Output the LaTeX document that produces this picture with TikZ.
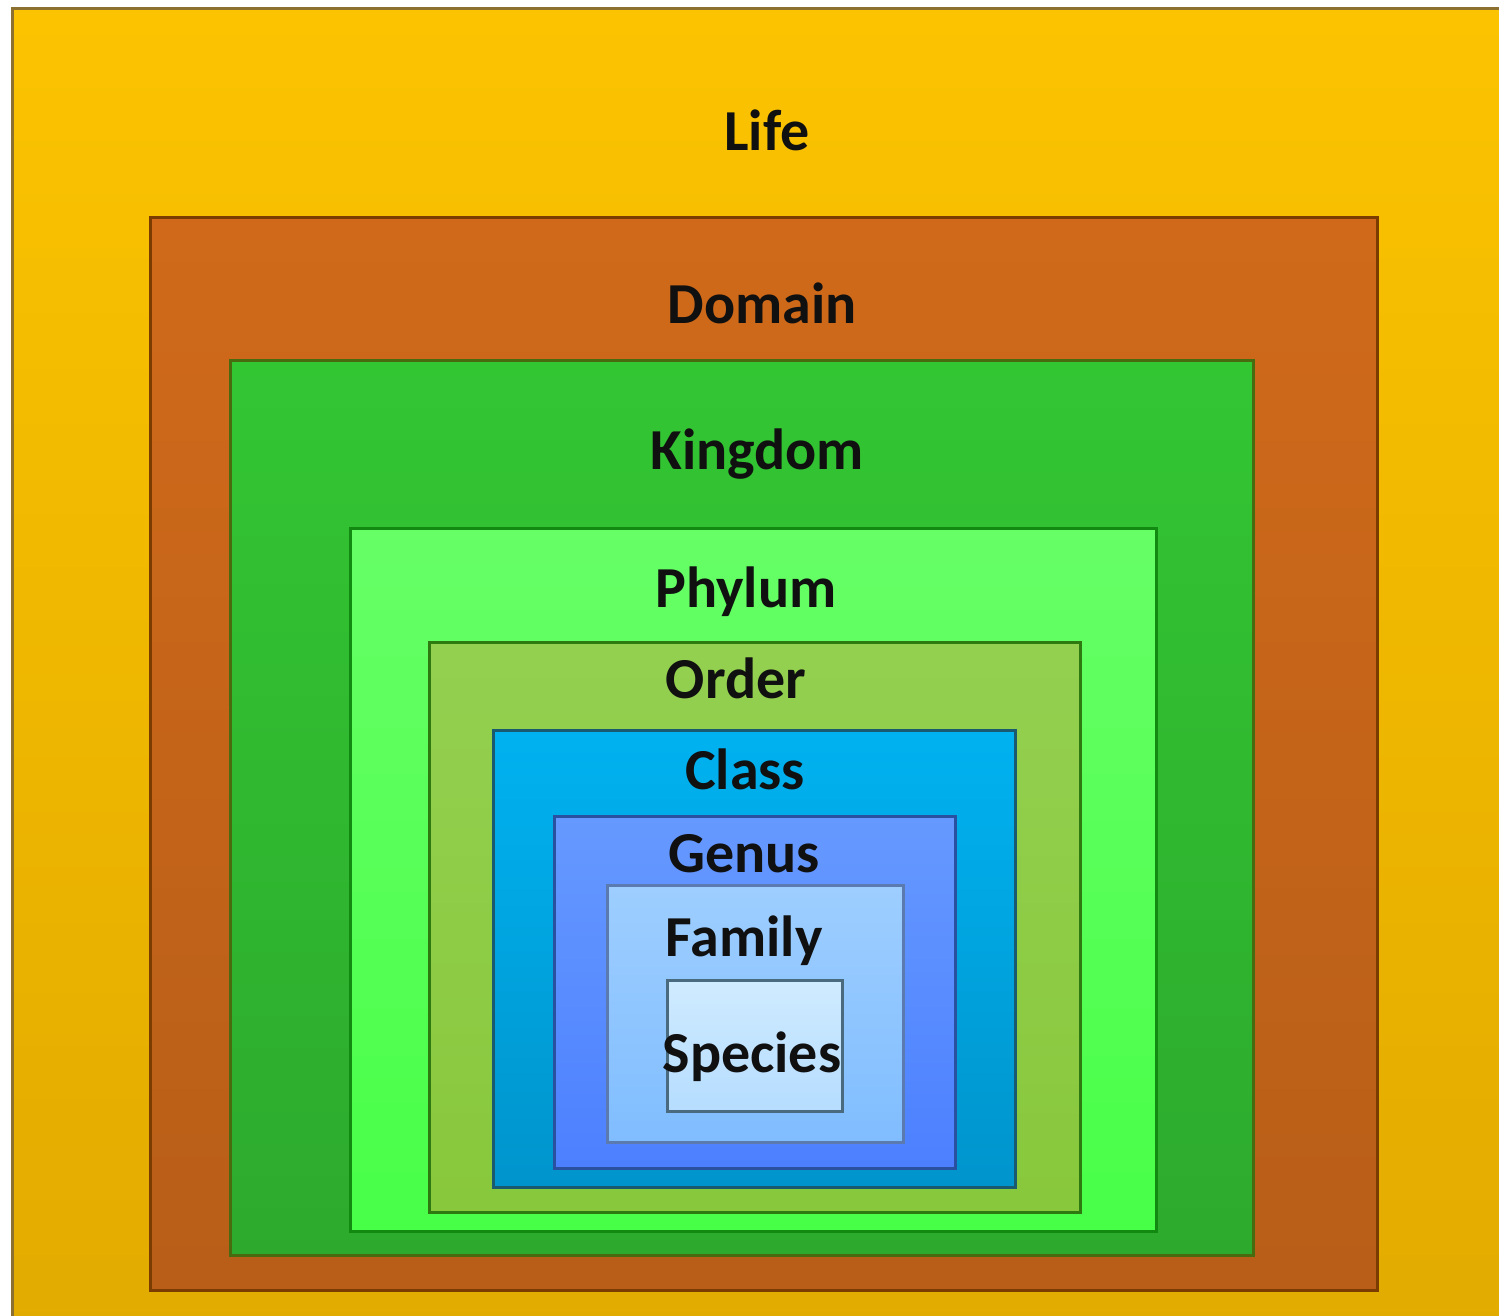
\documentclass[tikz,border=0pt]{standalone}
\usepackage{fontspec}
\setmainfont{Carlito}
\definecolor{lifeT}{HTML}{FBC300}\definecolor{lifeB}{HTML}{E2AB00}\definecolor{lifeD}{HTML}{8B7030}
\definecolor{domT}{HTML}{D06A1A}\definecolor{domB}{HTML}{B85E18}\definecolor{domD}{HTML}{7A3C00}
\definecolor{kinT}{HTML}{33C633}\definecolor{kinB}{HTML}{2DAA2D}\definecolor{kinD}{HTML}{4A6A10}
\definecolor{phyT}{HTML}{66FF66}\definecolor{phyB}{HTML}{48FF48}\definecolor{phyD}{HTML}{128A12}
\definecolor{ordT}{HTML}{94D050}\definecolor{ordB}{HTML}{88C83C}\definecolor{ordD}{HTML}{2F7A10}
\definecolor{claT}{HTML}{00B2F0}\definecolor{claB}{HTML}{0094CC}\definecolor{claD}{HTML}{1A5A70}
\definecolor{genT}{HTML}{6699FF}\definecolor{genB}{HTML}{4C80FF}\definecolor{genD}{HTML}{2A50A0}
\definecolor{famT}{HTML}{9ECEFF}\definecolor{famB}{HTML}{80BDFF}\definecolor{famD}{HTML}{5A7AB0}
\definecolor{speT}{HTML}{CFEBFF}\definecolor{speB}{HTML}{B6DDFF}\definecolor{speD}{HTML}{4A6A80}
\definecolor{txt}{HTML}{101010}
\begin{document}
\begin{tikzpicture}[x=1pt,y=-1pt,
  box/.style={draw, line width=3pt, anchor=north west, inner sep=0pt, outer sep=0pt},
  lbl/.style={anchor=base, inner sep=0pt, text=txt, font=\bfseries\fontsize{58}{60}\selectfont}]
\useasboundingbox (0,0) rectangle (1499,1315);
\fill[white] (0,0) rectangle (1499,1315);
\clip (0,0) rectangle (1499,1315);
\node (life) [box, draw=lifeD, top color=lifeT, bottom color=lifeB, minimum width=1510pt, minimum height=1330pt] at (12,8) {};
\node (domain) [box, draw=domD, top color=domT, bottom color=domB, minimum width=1227pt, minimum height=1073pt] at (150,217) {};
\node (kingdom) [box, draw=kinD, top color=kinT, bottom color=kinB, minimum width=1023pt, minimum height=895pt] at (230,360) {};
\node (phylum) [box, draw=phyD, top color=phyT, bottom color=phyB, minimum width=806pt, minimum height=703pt] at (350,528) {};
\node (order) [box, draw=ordD, top color=ordT, bottom color=ordB, minimum width=651pt, minimum height=570pt] at (429,642) {};
\node (class) [box, draw=claD, top color=claT, bottom color=claB, minimum width=522pt, minimum height=457pt] at (493,730) {};
\node (genus) [box, draw=genD, top color=genT, bottom color=genB, minimum width=401pt, minimum height=352pt] at (554,816) {};
\node (family) [box, draw=famD, top color=famT, bottom color=famB, minimum width=296pt, minimum height=257pt] at (607,885) {};
\node (species) [box, draw=speD, top color=speT, bottom color=speB, minimum width=175pt, minimum height=131pt] at (667,980) {};
\node (tlife) [lbl] at (767,150) {Life};
\node (tdomain) [lbl] at (762,323) {Domain};
\node (tkingdom) [lbl] at (757,469) {Kingdom};
\node (tphylum) [lbl] at (746,607) {Phylum};
\node (torder) [lbl] at (736,698) {Order};
\node (tclass) [lbl] at (745,789) {Class};
\node (tgenus) [lbl] at (744,872) {Genus};
\node (tfamily) [lbl] at (744,956) {Family};
\node (tspecies) [lbl] at (752,1072) {Species};
\end{tikzpicture}
\end{document}
